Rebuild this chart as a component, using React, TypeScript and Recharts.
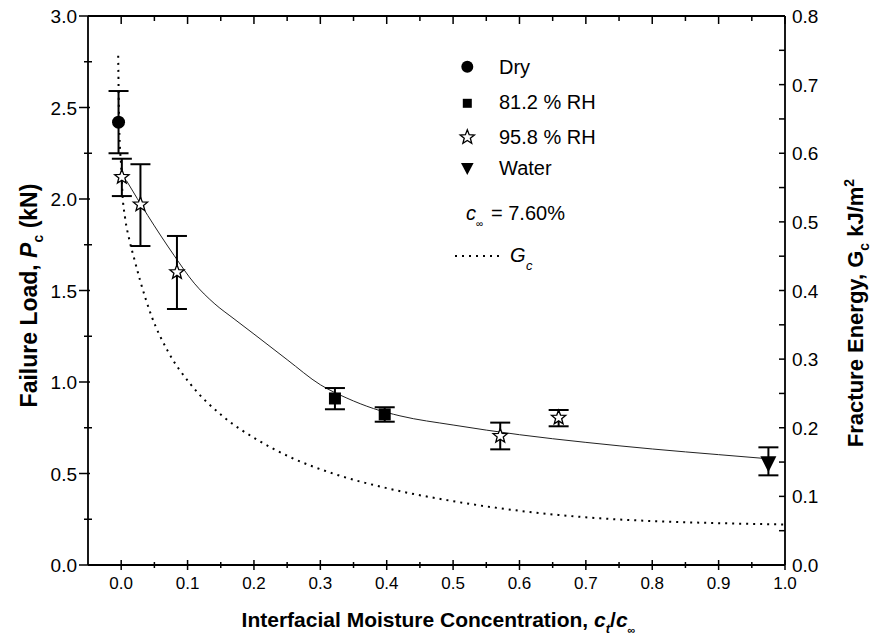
import React from 'react';
import { ComposedChart, Scatter, Line, XAxis, YAxis, ErrorBar } from 'recharts';

const W = 873;
const H = 639;
const FONT = 'Liberation Sans, Arial, Helvetica, sans-serif';

// ---- data ----
const dryX = [-0.004];
const dryP = [2.42];
const dryLo = [2.25];
const dryHi = [2.59];

const rh81X = [0.322, 0.397];
const rh81P = [0.91, 0.823];
const rh81Lo = [0.851, 0.783];
const rh81Hi = [0.967, 0.862];

const rh95X = [0.001, 0.029, 0.084, 0.571, 0.659];
const rh95P = [2.12, 1.97, 1.6, 0.705, 0.805];
const rh95Lo = [2.016, 1.743, 1.399, 0.632, 0.758];
const rh95Hi = [2.22, 2.19, 1.798, 0.778, 0.847];

const waterX = [0.975];
const waterP = [0.556];
const waterLo = [0.49];
const waterHi = [0.643];

// fitted failure-load curve (left axis)
const fitX = [0.008, 0.04, 0.08, 0.11, 0.14, 0.17, 0.2, 0.25, 0.3, 0.34, 0.38, 0.42, 0.5, 0.6, 0.7, 0.8, 0.9, 0.97];
const fitP = [2.1, 1.91, 1.69, 1.54, 1.43, 1.345, 1.262, 1.122, 0.985, 0.912, 0.855, 0.815, 0.765, 0.712, 0.67, 0.634, 0.603, 0.582];

// fracture energy curve (right axis)
const gcX = [-0.0045, -0.003, 0.0, 0.002, 0.006, 0.012, 0.02, 0.029, 0.046, 0.07, 0.104, 0.154, 0.204, 0.255, 0.32, 0.4, 0.5, 0.6, 0.7, 0.8, 0.9, 1.0];
const gcG = [0.742, 0.64, 0.58, 0.54, 0.505, 0.475, 0.445, 0.413, 0.362, 0.312, 0.264, 0.216, 0.183, 0.157, 0.133, 0.112, 0.093, 0.079, 0.0695, 0.064, 0.061, 0.059];

// ticks
const xTicks = [0, 0.05, 0.1, 0.15, 0.2, 0.25, 0.3, 0.35, 0.4, 0.45, 0.5, 0.55, 0.6, 0.65, 0.7, 0.75, 0.8, 0.85, 0.9, 0.95, 1.0];
const leftTicks = [0, 0.25, 0.5, 0.75, 1.0, 1.25, 1.5, 1.75, 2.0, 2.25, 2.5, 2.75, 3.0];
const rightTicks = [0, 0.05, 0.1, 0.15, 0.2, 0.25, 0.3, 0.35, 0.4, 0.45, 0.5, 0.55, 0.6, 0.65, 0.7, 0.75, 0.8];

const pts = (xs: number[], ps: number[], lo: number[], hi: number[]) =>
  xs.map((x, i) => ({ x, y: ps[i], err: [ps[i] - lo[i], hi[i] - ps[i]] }));

const dryData = pts(dryX, dryP, dryLo, dryHi);
const rh81Data = pts(rh81X, rh81P, rh81Lo, rh81Hi);
const rh95Data = pts(rh95X, rh95P, rh95Lo, rh95Hi);
const waterData = pts(waterX, waterP, waterLo, waterHi);
const fitData = fitX.map((x, i) => ({ x, y: fitP[i] }));
const gcData = gcX.map((x, i) => ({ x, g: gcG[i] }));

const isMajor = (v: number, step: number) => Math.abs(v / step - Math.round(v / step)) < 1e-6;

const starPath = (cx: number, cy: number, ro: number, ri: number) => {
  let d = '';
  for (let i = 0; i < 10; i++) {
    const r = i % 2 === 0 ? ro : ri;
    const a = -Math.PI / 2 + (i * Math.PI) / 5;
    d += (i === 0 ? 'M' : 'L') + (cx + r * Math.cos(a)).toFixed(2) + ',' + (cy + r * Math.sin(a)).toFixed(2);
  }
  return d + 'Z';
};

const CircleShape = (p: any) => <circle cx={p.cx} cy={p.cy} r={6.5} fill="#000" />;
const SquareShape = (p: any) => <rect x={p.cx - 6} y={p.cy - 6} width={12} height={12} fill="#000" />;
const StarShape = (p: any) => <path d={starPath(p.cx, p.cy, 7.5, 3.2)} fill="#fff" stroke="#000" strokeWidth={1.3} />;
const TriShape = (p: any) => (
  <path d={`M${p.cx - 8},${p.cy - 7}L${p.cx + 8},${p.cy - 7}L${p.cx},${p.cy + 9}Z`} fill="#000" />
);

const BottomTick = (props: any) => {
  const { x, y, payload } = props;
  const v = payload.value;
  const major = isMajor(v, 0.1);
  const len = major ? 5 : 3;
  return (
    <g>
      <line x1={x} x2={x} y1={y - len} y2={y + len} stroke="#000" strokeWidth={1.5} />
      {major && (
        <text x={x} y={y + 24} textAnchor="middle" fontSize={17} fontFamily={FONT} fill="#000">
          {v.toFixed(1)}
        </text>
      )}
    </g>
  );
};

const TopTick = (props: any) => {
  const { x, y, payload } = props;
  const major = isMajor(payload.value, 0.1);
  return <line x1={x} x2={x} y1={y} y2={y + (major ? 8 : 5)} stroke="#000" strokeWidth={1.5} />;
};

const LeftTick = (props: any) => {
  const { x, y, payload } = props;
  const v = payload.value;
  const major = isMajor(v, 0.5);
  return (
    <g>
      {major ? (
        <line x1={x - 9} x2={x + 2} y1={y} y2={y} stroke="#000" strokeWidth={1.5} />
      ) : (
        <line x1={x - 4} x2={x + 4} y1={y} y2={y} stroke="#000" strokeWidth={1.5} />
      )}
      {major && (
        <text x={x - 11} y={y + 7} textAnchor="end" fontSize={19} fontFamily={FONT} fill="#000">
          {v.toFixed(1)}
        </text>
      )}
    </g>
  );
};

const RightTick = (props: any) => {
  const { x, y, payload } = props;
  const v = payload.value;
  const major = isMajor(v, 0.1);
  return (
    <g>
      <line x1={x - 6} x2={x} y1={y} y2={y} stroke="#000" strokeWidth={1.5} />
      {major && (
        <text x={x + 7} y={y + 7} textAnchor="start" fontSize={19} fontFamily={FONT} fill="#000">
          {v.toFixed(1)}
        </text>
      )}
    </g>
  );
};

const axisLine = { stroke: '#000', strokeWidth: 1.8 };

export default function App() {
  return (
    <div style={{ position: 'absolute', left: 0, top: 0, width: W, height: H, background: '#fff' }}>
      <ComposedChart width={W} height={H} margin={{ top: 6, right: 28, bottom: 34, left: 28 }}>
        <XAxis
          xAxisId={0}
          dataKey="x"
          type="number"
          domain={[-0.05, 1]}
          ticks={xTicks}
          interval={0}
          tickSize={0}
          tickMargin={0}
          tickLine={false}
          tick={<BottomTick />}
          axisLine={axisLine}
          height={40}
          allowDataOverflow
        />
        <XAxis
          xAxisId="top"
          orientation="top"
          dataKey="x"
          type="number"
          domain={[-0.05, 1]}
          ticks={xTicks}
          interval={0}
          tickSize={0}
          tickMargin={0}
          tickLine={false}
          tick={<TopTick />}
          axisLine={axisLine}
          height={10}
          allowDataOverflow
        />
        <YAxis
          yAxisId="left"
          dataKey="y"
          type="number"
          domain={[0, 3]}
          ticks={leftTicks}
          interval={0}
          tickSize={0}
          tickMargin={0}
          tickLine={false}
          tick={<LeftTick />}
          axisLine={axisLine}
          width={60}
          allowDataOverflow
        />
        <YAxis
          yAxisId="right"
          orientation="right"
          type="number"
          domain={[0, 0.8]}
          ticks={rightTicks}
          interval={0}
          tickSize={0}
          tickMargin={0}
          tickLine={false}
          tick={<RightTick />}
          axisLine={axisLine}
          width={60}
          allowDataOverflow
        />
        <Line
          yAxisId="right"
          data={gcData}
          dataKey="g"
          type="monotone"
          stroke="#000"
          strokeWidth={2}
          strokeDasharray="2 5"
          dot={false}
          activeDot={false}
          isAnimationActive={false}
        />
        <Line
          yAxisId="left"
          data={fitData}
          dataKey="y"
          type="monotone"
          stroke="#222"
          strokeWidth={1}
          dot={false}
          activeDot={false}
          isAnimationActive={false}
        />
        <Scatter yAxisId="left" data={dryData} shape={<CircleShape />} isAnimationActive={false}>
          <ErrorBar dataKey="err" direction="y" width={10} stroke="#000" strokeWidth={2} />
        </Scatter>
        <Scatter yAxisId="left" data={rh81Data} shape={<SquareShape />} isAnimationActive={false}>
          <ErrorBar dataKey="err" direction="y" width={10} stroke="#000" strokeWidth={2} />
        </Scatter>
        <Scatter yAxisId="left" data={rh95Data} shape={<StarShape />} isAnimationActive={false}>
          <ErrorBar dataKey="err" direction="y" width={10} stroke="#000" strokeWidth={2} />
        </Scatter>
        <Scatter yAxisId="left" data={waterData} shape={<TriShape />} isAnimationActive={false}>
          <ErrorBar dataKey="err" direction="y" width={10} stroke="#000" strokeWidth={2} />
        </Scatter>
      </ComposedChart>
      <svg
        width={W}
        height={H}
        style={{ position: 'absolute', left: 0, top: 0, pointerEvents: 'none' }}
        fontFamily={FONT}
      >
        {/* legend */}
        <circle cx={467.3} cy={66.7} r={6} fill="#000" />
        <text x={499} y={74} fontSize={20} fill="#000">Dry</text>
        <rect x={462.8} y={98.8} width={9} height={9} fill="#000" />
        <text x={499} y={109} fontSize={20} fill="#000">81.2 % RH</text>
        <path d={starPath(467.3, 137.3, 7.5, 3.2)} fill="#fff" stroke="#000" strokeWidth={1.3} />
        <text x={499} y={144} fontSize={20} fill="#000">95.8 % RH</text>
        <path d="M461,163L473.6,163L467.3,175Z" fill="#000" />
        <text x={499} y={175} fontSize={20} fill="#000">Water</text>
        <text x={466} y={220} fontSize={20} fill="#000" fontStyle="italic">c</text>
        <text x={476} y={227} fontSize={10} fill="#000">∞</text>
        <text x={491} y={220} fontSize={20} fill="#000">= 7.60%</text>
        <line x1={455} x2={499} y1={256} y2={256} stroke="#000" strokeWidth={2} strokeDasharray="2 5" />
        <text x={510} y={262} fontSize={20} fill="#000" fontStyle="italic">G</text>
        <text x={526} y={270} fontSize={13} fill="#000" fontStyle="italic">c</text>

        {/* axis titles */}
        <text x={438.5} y={627} textAnchor="middle" fontSize={21} fontWeight="bold" fill="#000">
          Interfacial Moisture Concentration,{' '}
          <tspan fontStyle="italic">c</tspan>
          <tspan fontSize={13} dy={6} fontStyle="italic">t</tspan>
          <tspan dy={-6}>/</tspan>
          <tspan fontStyle="italic">c</tspan>
          <tspan fontSize={11} dy={7}>∞</tspan>
        </text>
        <text
          transform="translate(37,295.5) rotate(-90)"
          textAnchor="middle"
          fontSize={23}
          fontWeight="bold"
          fill="#000"
        >
          Failure Load,{' '}
          <tspan fontStyle="italic">P</tspan>
          <tspan fontSize={14} dy={6}>c</tspan>
          <tspan dy={-6}> (kN)</tspan>
        </text>
        <text
          transform="translate(863,313) rotate(-90)"
          textAnchor="middle"
          fontSize={22}
          fontWeight="bold"
          fill="#000"
        >
          Fracture Energy, G
          <tspan fontSize={14} dy={6}>c</tspan>
          <tspan dy={-6}> kJ/m</tspan>
          <tspan fontSize={14} dy={-9}>2</tspan>
        </text>
      </svg>
    </div>
  );
}
